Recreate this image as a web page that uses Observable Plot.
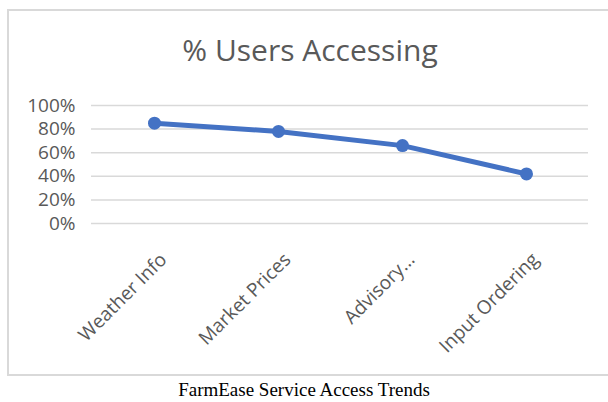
<!DOCTYPE html>
<html>
<head>
<meta charset="utf-8">
<script src="https://cdn.jsdelivr.net/npm/d3@7"></script>
<script src="https://cdn.jsdelivr.net/npm/@observablehq/plot@0.6"></script>
<style>
  html, body { margin: 0; padding: 0; background: #fff; width: 608px; height: 402px; overflow: hidden; }
  #box { position: absolute; left: 7px; top: 9px; width: 620px; height: 363px; border: 2px solid #d9d9d9; }
  #title { position: absolute; left: 0; top: 30px; width: 620px; text-align: center; font-family: "Open Sans", sans-serif; font-size: 30px; line-height: 40px; color: #595959; }
  #chart { position: absolute; left: 0; top: 75px; }
  #caption { position: absolute; left: 0; top: 378px; width: 608px; text-align: center; font-family: "Liberation Serif", "Times New Roman", serif; font-size: 19px; line-height: 24px; color: #000; }
</style>
</head>
<body>
<div id="box"></div>
<div id="title">% Users Accessing</div>
<div id="chart"></div>
<div id="caption">FarmEase Service Access Trends</div>
<script>
const categories = ["Weather Info", "Market Prices", "Advisory...", "Input Ordering"];
const usersAccessing = [0.85, 0.78, 0.66, 0.42];
const yTicks = [0, 0.2, 0.4, 0.6, 0.8, 1.0];

const data = categories.map((c, i) => ({category: c, value: usersAccessing[i]}));

const chart = Plot.plot({
  width: 608,
  height: 300,
  marginTop: 30,
  marginBottom: 152,
  marginLeft: 91,
  marginRight: 20,
  style: {fontFamily: "Open Sans, sans-serif", fontSize: "19px", color: "#595959", background: "transparent"},
  x: {type: "point", domain: categories, padding: 0.5, label: null},
  y: {domain: [0, 1], ticks: yTicks, tickFormat: d3.format(".0%"), label: null},
  marks: [
    Plot.gridY(yTicks, {stroke: "#d9d9d9", strokeOpacity: 1, strokeWidth: 1.5}),
    Plot.axisY(yTicks, {tickSize: 0, tickPadding: 16, tickFormat: d3.format(".0%"), fontSize: 19, label: null}),
    Plot.axisX({tickSize: 0, tickRotate: -45, tickPadding: 33, dx: 9, fontSize: 19, textAnchor: "end", lineAnchor: "middle", label: null}),
    Plot.line(data, {x: "category", y: "value", stroke: "#4472C4", strokeWidth: 5, strokeLinejoin: "round"}),
    Plot.dot(data, {x: "category", y: "value", r: 6.5, fill: "#4472C4", stroke: "none"})
  ]
});
document.getElementById("chart").appendChild(chart);
</script>
</body>
</html>
